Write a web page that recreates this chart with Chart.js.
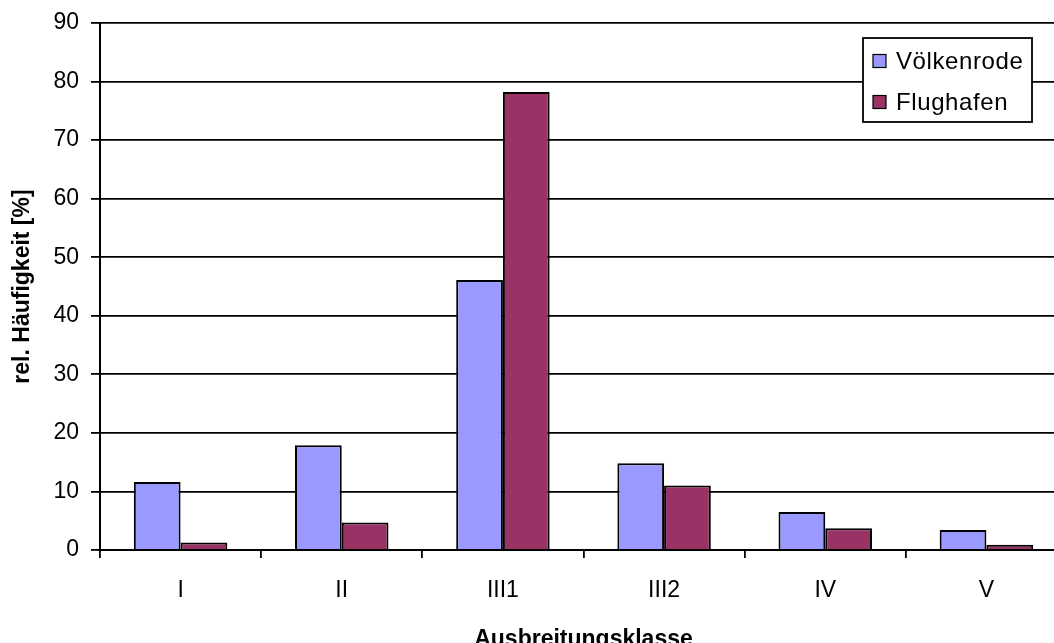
<!DOCTYPE html>
<html>
<head>
<meta charset="utf-8">
<script src="https://cdn.jsdelivr.net/npm/chart.js@4.4.1/dist/chart.umd.min.js"></script>
<style>
  html, body { margin: 0; padding: 0; background: #fff; overflow: hidden; }
  #wrap { width: 1054px; height: 643px; overflow: hidden; position: relative; }
  canvas { position: absolute; left: 0; top: 0; }
</style>
</head>
<body>
<div id="wrap"><canvas id="c" width="1075" height="668"></canvas></div>
<script>
// Ausbreitungsklassen (dispersion classes) and relative frequencies in percent
const categories = ['I', 'II', 'III1', 'III2', 'IV', 'V'];
const voelkenrode = [11.6, 17.9, 46.1, 14.8, 6.5, 3.4];
const flughafen = [1.3, 4.7, 78.2, 11.0, 3.7, 0.9];
const yTicks = [0, 10, 20, 30, 40, 50, 60, 70, 80, 90];

const FONT = '"Liberation Sans", Arial, sans-serif';

// Framed legend in the upper right corner of the plot
const boxedLegend = {
  id: 'boxedLegend',
  afterDraw(chart) {
    const ctx = chart.ctx;
    const x = 863, y = 38, w = 169, h = 84;
    ctx.save();
    ctx.fillStyle = '#fff';
    ctx.fillRect(x, y, w, h);
    ctx.strokeStyle = '#000';
    ctx.lineWidth = 1.8;
    ctx.strokeRect(x, y, w, h);
    ctx.font = '24px ' + FONT;
    if ('letterSpacing' in ctx) ctx.letterSpacing = '0.6px';
    ctx.textBaseline = 'middle';
    chart.data.datasets.forEach((ds, i) => {
      const cy = y + 23 + i * 41;
      ctx.fillStyle = ds.backgroundColor;
      ctx.fillRect(x + 10, cy - 6.5, 13, 13);
      ctx.lineWidth = 1.2;
      ctx.strokeRect(x + 10, cy - 6.5, 13, 13);
      ctx.fillStyle = '#000';
      ctx.fillText(ds.label, x + 33, cy + 1);
    });
    ctx.restore();
  }
};

new Chart(document.getElementById('c'), {
  type: 'bar',
  data: {
    labels: categories,
    datasets: [
      { label: 'Völkenrode', data: voelkenrode, backgroundColor: '#9999FF', borderColor: '#000', borderWidth: 2 },
      { label: 'Flughafen', data: flughafen, backgroundColor: '#993366', borderColor: '#000', borderWidth: 2 }
    ]
  },
  options: {
    responsive: false,
    animation: false,
    devicePixelRatio: 1,
    layout: { padding: { top: 23, right: 8, left: 0, bottom: 0 } },
    plugins: {
      legend: { display: false },
      tooltip: { enabled: false }
    },
    datasets: {
      bar: { categoryPercentage: 0.58, barPercentage: 1.0 }
    },
    scales: {
      x: {
        afterFit(scale) { scale.height = 118; },
        grid: { display: true, drawOnChartArea: false, offset: true, tickLength: 8, color: '#000', lineWidth: 1.8 },
        border: { display: true, color: '#000', width: 2 },
        ticks: { color: '#000', font: { family: FONT, size: 23 }, padding: 19, maxRotation: 0 },
        title: {
          display: true, text: 'Ausbreitungsklasse', color: '#000',
          font: { family: FONT, size: 23, weight: 'bold' }, padding: { top: 0, bottom: 15 }
        }
      },
      y: {
        min: 0, max: 90,
        afterFit(scale) { scale.width = 100; scale.paddingTop = 0; scale.paddingBottom = 0; },
        afterBuildTicks(scale) { scale.ticks = yTicks.map(v => ({ value: v })); },
        grid: { color: '#000', lineWidth: 1.8, tickLength: 9 },
        border: { display: true, color: '#000', width: 2 },
        ticks: { color: '#000', font: { family: FONT, size: 23 }, padding: 12 },
        title: {
          display: true, text: 'rel. Häufigkeit [%]', color: '#000',
          font: { family: FONT, size: 23, weight: 'bold' }, padding: { top: 9, bottom: 0 }
        }
      }
    }
  },
  plugins: [boxedLegend]
});
</script>
</body>
</html>
